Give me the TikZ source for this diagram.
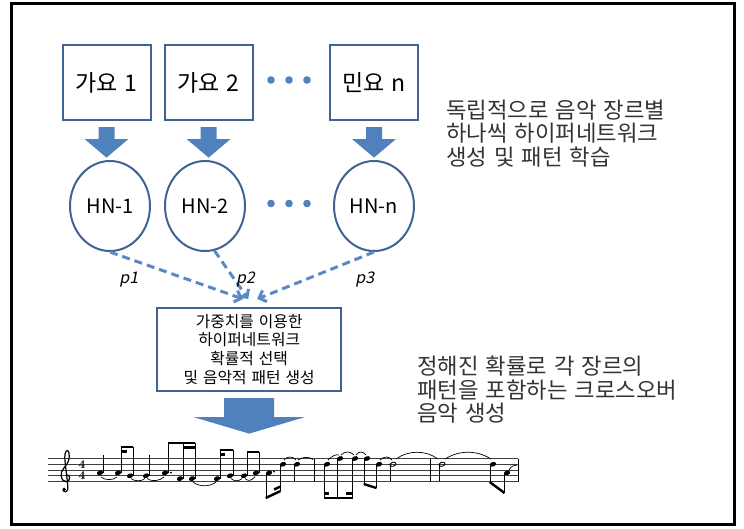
\documentclass[tikz,border=0pt]{standalone}
\usepackage{fontspec}
\newfontfamily\kr{Noto Sans CJK KR}[WordSpace=1.4]
\newfontfamily\krit{Noto Sans CJK KR}[FakeSlant=0.2]
\usetikzlibrary{arrows.meta,calc,shapes.geometric}
\definecolor{boxline}{HTML}{3F6393}
\definecolor{afill}{HTML}{4F81BD}
\definecolor{dashc}{HTML}{5A8AC6}
\definecolor{txtgray}{HTML}{333333}
\newcommand\MusUp[3]{%
  \fill[rotate around={20:(#1,{481.5-2.875*(#2)})}] (#1,{481.5-2.875*(#2)}) ellipse (3.2pt and 2.3pt);
  \draw[stemline] ({#1+2.9},{481.5-2.875*(#2)}) -- ({#1+2.9},#3);}
\newcommand\MusDn[3]{%
  \fill[rotate around={20:(#1,{481.5-2.875*(#2)})}] (#1,{481.5-2.875*(#2)}) ellipse (3.2pt and 2.3pt);
  \draw[stemline] ({#1-2.9},{481.5-2.875*(#2)}) -- ({#1-2.9},#3);}
\newcommand\MusHalf[3]{%
  \draw[line width=0.9pt,rotate around={20:(#1,{481.5-2.875*(#2)})}] (#1,{481.5-2.875*(#2)}) ellipse (3.0pt and 2.0pt);
  \draw[stemline] ({#1-2.9},{481.5-2.875*(#2)}) -- ({#1-2.9},#3);}
\newcommand\BlkArrow[6]{% node, top offset, neck offset, tip offset, shaft half, head half
  \fill[afill] ($(#1.south)+(-#5,#2)$) -- ($(#1.south)+(#5,#2)$) -- ($(#1.south)+(#5,#3)$)
    -- ($(#1.south)+(#6,#3)$) -- ($(#1.south)+(0,#4)$) -- ($(#1.south)+(-#6,#3)$)
    -- ($(#1.south)+(-#5,#3)$) -- cycle;}
\begin{document}
\begin{tikzpicture}[x=1pt,y=-1pt,
  genre/.style={draw=boxline,line width=2pt,minimum width=88pt,minimum height=75pt,inner sep=0pt,font=\kr\fontsize{23}{27}\selectfont},
  hn/.style={ellipse,draw=boxline,line width=2pt,minimum width=80pt,minimum height=90pt,inner sep=0pt,font=\kr\fontsize{20}{24}\selectfont},
  genbox/.style={draw=boxline,line width=2pt,minimum width=183.6pt,minimum height=82.6pt,inner sep=0pt,align=center,font=\kr\fontsize{15.8}{18.7}\selectfont},
  sidetext/.style={font=\kr\fontsize{22.3}{23.8}\selectfont,text=txtgray,align=left,inner sep=0pt,anchor=north west},
  plabel/.style={font=\krit\fontsize{16}{18}\selectfont,inner sep=0pt},
  dasharrow/.style={draw=dashc,line width=3pt,dash pattern=on 8pt off 5pt,-{Straight Barb[length=6pt,width=12pt]}},
  stemline/.style={line width=0.8pt},
  staffline/.style={line width=0.8pt,draw=black!75},
  beamline/.style={line width=2.4pt},
  tieline/.style={line width=0.7pt}
]
\useasboundingbox (0,0) rectangle (744,528);
\draw[line width=3pt] (11,3.5) rectangle (734,524.5);

% genre boxes
\node[genre] (g1) at (106.5,82.5) {가요 1};
\node[genre] (g2) at (208.6,82.5) {가요 2};
\node[genre] (g3) at (374,82.5) {민요 n};
\foreach \xx in {271,289,307} \fill[afill] (\xx,80) circle (3.8pt);

% block arrows
\BlkArrow{g1}{6}{18}{36.6}{8}{22}
\BlkArrow{g2}{6}{18}{36.6}{8}{22}
\BlkArrow{g3}{6}{18}{36.6}{8}{22}

% hypernetworks
\node[hn] (h1) at (110,206) {HN-1};
\node[hn] (h2) at (205,206) {HN-2};
\node[hn] (h3) at (374,206) {HN-n};
\foreach \xx in {271,289,307} \fill[afill] (\xx,203.5) circle (3.8pt);

% generator box
\node[genbox] (gen) at (249.2,349.3) {가중치를 이용한\\하이퍼네트워크\\확률적 선택\\및 음악적 패턴 생성};

\coordinate (e1) at ($(gen.north)+(-6,-8)$);
\coordinate (e2) at ($(gen.north)+(-1,-8)$);
\coordinate (e3) at ($(gen.north)+(8,-8)$);
\draw[dasharrow] (h1.south) -- (e1);
\draw[dasharrow] (h2.-78) -- (e2);
\draw[dasharrow] (h3.south) -- (e3);
\node[plabel] (p1) at (128.8,279.5) {p1};
\node[plabel] (p2) at (245.6,279.5) {p2};
\node[plabel] (p3) at (364.8,279.5) {p3};

\BlkArrow{gen}{6.4}{25.4}{42}{25}{56}

% side texts
\node[sidetext] (t1) at (446,99.5) {독립적으로 음악 장르별\\하나씩 하이퍼네트워크\\생성 및 패턴 학습};
\node[sidetext] (t2) at (417,355.5) {정해진 확률로 각 장르의\\패턴을 포함하는 크로스오버\\음악 생성};

% staff
\foreach \s in {0,2,4,6,8} \draw[staffline] (48,{481.5-2.875*\s}) -- (518,{481.5-2.875*\s});
\foreach \xx in {314,430,518} \draw[stemline] (\xx,458.5) -- (\xx,481.5);
% treble clef
\begin{scope}[shift={(66,475.75)},x=6.2pt,y=6.2pt]
\draw[line width=1.2pt] (0.15,0.1) .. controls (0.7,0.3) and (0.8,-0.9) .. (0.05,-0.95)
 .. controls (-0.9,-0.95) and (-1.1,0.5) .. (-0.3,1.3)
 .. controls (0.3,1.9) and (0.75,2.9) .. (0.45,3.8)
 .. controls (0.25,4.4) and (-0.25,3.9) .. (-0.2,2.9)
 .. controls (-0.15,1.8) and (0.35,-1.5) .. (0.3,-2.1)
 .. controls (0.25,-2.7) and (-0.45,-2.7) .. (-0.45,-2.3);
\fill (-0.3,-2.2) circle (1.9pt);
\end{scope}
\node[font=\bfseries\fontsize{12}{12}\selectfont,inner sep=0pt] (ts1) at (82,464.25) {4};
\node[font=\bfseries\fontsize{12}{12}\selectfont,inner sep=0pt] (ts2) at (82,475.75) {4};

% notes
\MusUp{100}{3}{455}
\MusUp{118}{3}{447}
\MusUp{130}{2}{447}
\draw[beamline] (120.5,447) -- (133.3,447);
\draw[beamline] (120.5,451.5) -- (126.5,451.5);
\MusUp{146}{2}{455}
\MusUp{165}{3}{443}
\fill (171,472.5) circle (1pt);
\MusUp{180}{1}{443}
\MusUp{192}{1}{443}
\draw[beamline] (167.5,443) -- (195.3,443);
\draw[beamline] (182.5,447.5) -- (195.3,447.5);
\MusUp{217}{1}{450}
\MusUp{230}{2}{450}
\draw[beamline] (219.5,450) -- (233.3,450);
\draw[beamline] (219.5,454.5) -- (225,454.5);
\MusUp{244}{2}{452}
\MusUp{256}{3}{452}
\draw[beamline] (246.5,452) -- (259.3,452);
\MusDn{269}{3}{498}
\fill (274,471.5) circle (1pt);
\MusDn{283}{6}{491}
\draw[beamline] (265.7,498) -- (280.5,491);
\draw[beamline] (274,489.5) -- (280.5,486.5);
\MusDn{297}{6}{481}
\MusDn{327}{6}{498}
\MusDn{340}{8}{498}
\MusDn{355}{8}{498}
\draw[beamline] (323.7,498) -- (352.5,498);
\draw[beamline] (323.7,493.5) -- (329,493.5);
\draw[beamline] (346,493.5) -- (352.5,493.5);
\MusDn{367}{8}{484}
\MusDn{379}{6}{488}
\draw[beamline] (363.7,484) -- (376.5,488);
\MusHalf{393}{6}{481}
\MusHalf{442}{6}{481}
\MusDn{493}{6}{482}
\MusDn{507}{3}{493}
\draw[beamline] (489.7,482) -- (504.5,493);

% ties
\draw[tieline] (101,477) .. controls (105,480.5) and (113,480.5) .. (117,477);
\draw[tieline] (131,478.5) .. controls (134,481.5) and (142,481.5) .. (145,478.5);
\draw[tieline] (147,478.5) .. controls (151,482) and (160,481) .. (164,477);
\draw[tieline] (193,482) .. controls (199,487) and (210,487) .. (216,482);
\draw[tieline] (231,478.5) .. controls (234,481.5) and (239,481.5) .. (242,478.5);
\draw[tieline] (245,478.5) .. controls (248,481.5) and (252,481) .. (255,476.5);
\draw[tieline] (284,460) .. controls (287,456) and (293,456) .. (296,460);
\draw[tieline] (298,460) .. controls (303,456.5) and (309,456.5) .. (313,459.5);
\draw[tieline] (328,460) .. controls (332,456) and (336,454) .. (339,455);
\draw[tieline] (341,455) .. controls (345,451) and (350,451) .. (354,455);
\draw[tieline] (356,455) .. controls (359,451) and (363,451) .. (366,455);
\draw[tieline] (380,460) .. controls (384,456) and (389,456) .. (392,460);
\draw[tieline] (396,459) .. controls (408,450) and (426,450) .. (438,459);
\draw[tieline] (445,459) .. controls (459,450) and (477,450) .. (491,459);
\draw[tieline] (509,470) .. controls (511,466) and (514,465) .. (517,465);
\end{tikzpicture}
\end{document}
